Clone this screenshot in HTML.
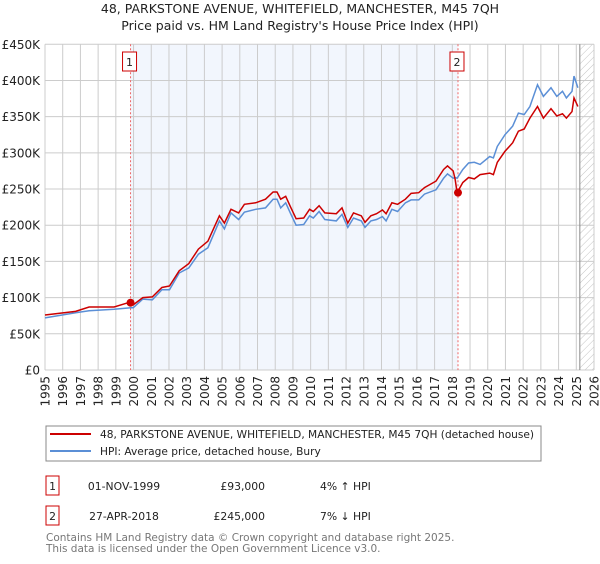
<!DOCTYPE html>
<html><head><meta charset="utf-8"><style>
body{margin:0;background:#fff;font-family:"DejaVu Sans","Liberation Sans",sans-serif;}
svg text{font-family:"DejaVu Sans","Liberation Sans",sans-serif;}
</style></head><body>
<svg id="c" width="600" height="560" xmlns="http://www.w3.org/2000/svg">
<defs><pattern id="hatch" width="5" height="5" patternUnits="userSpaceOnUse" patternTransform="rotate(45)"><line x1="0" y1="0" x2="0" y2="5" stroke="#c4c4c4" stroke-width="1"/></pattern></defs>
<text x="300" y="13" text-anchor="middle" font-size="12.5" fill="#222">48, PARKSTONE AVENUE, WHITEFIELD, MANCHESTER, M45 7QH</text>
<text x="300" y="30" text-anchor="middle" font-size="12.5" fill="#222">Price paid vs. HM Land Registry's House Price Index (HPI)</text>
<g id="plot"></g>
<g>
<rect x="46" y="426" width="495" height="35" fill="#fff" stroke="#888"/>
<line x1="50" y1="434" x2="91" y2="434" stroke="#cc0000" stroke-width="2"/>
<text x="100" y="438" font-size="10.6" fill="#222">48, PARKSTONE AVENUE, WHITEFIELD, MANCHESTER, M45 7QH (detached house)</text>
<line x1="50" y1="451" x2="91" y2="451" stroke="#5b8fd6" stroke-width="2"/>
<text x="100" y="455" font-size="10.6" fill="#222">HPI: Average price, detached house, Bury</text>
</g>
<g font-size="10.8" fill="#222">
<rect x="46" y="476" width="13" height="19" fill="#fff" stroke="#cc0000"/>
<text x="52.5" y="490" text-anchor="middle">1</text>
<text x="124" y="490" text-anchor="middle">01-NOV-1999</text>
<text x="265" y="490" text-anchor="end">£93,000</text>
<text x="320" y="490">4% ↑ HPI</text>
<rect x="46" y="506" width="13" height="19" fill="#fff" stroke="#cc0000"/>
<text x="52.5" y="520" text-anchor="middle">2</text>
<text x="124" y="520" text-anchor="middle">27-APR-2018</text>
<text x="265" y="520" text-anchor="end">£245,000</text>
<text x="320" y="520">7% ↓ HPI</text>
</g>
<text x="46" y="541" font-size="10.5" fill="#777">Contains HM Land Registry data © Crown copyright and database right 2025.</text>
<text x="46" y="552" font-size="10.5" fill="#777">This data is licensed under the Open Government Licence v3.0.</text>
</svg>
<script>
const years=[1995.0,1996.73,1997.49,1998.9,1999.83,1999.98,2000.52,2001.06,2001.6,2002.03,2002.58,2003.12,2003.66,2004.2,2004.85,2005.13,2005.5,2005.93,2006.26,2006.9,2007.45,2007.88,2008.1,2008.31,2008.59,2008.85,2009.18,2009.61,2009.94,2010.15,2010.48,2010.8,2011.45,2011.77,2012.1,2012.42,2012.86,2013.07,2013.4,2013.72,2014.05,2014.26,2014.59,2014.91,2015.35,2015.67,2016.1,2016.43,2017.08,2017.51,2017.73,2018.05,2018.16,2018.27,2018.59,2018.92,2019.24,2019.57,2020.11,2020.32,2020.54,2020.97,2021.41,2021.73,2022.06,2022.38,2022.81,2023.14,2023.57,2023.9,2024.22,2024.44,2024.76,2024.87,2025.09];
const priceK=[76,81,87,87,94,90,100,101,114,116,137,147,167,178,213,203,222,217,229,231,236,246,246,236,240,226,209,210,222,219,227,217,216,224,203,217,213,204,213,216,221,216,231,229,236,244,245,252,261,277,282,275,263,245,259,266,264,270,272,270,287,302,314,330,333,348,364,348,361,351,354,348,357,376,364];
const hpiK=[72,79,82,84,86,86,98,97,111,111,134,141,160,169,206,195,217,208,218,222,224,236,236,224,231,217,200,201,213,210,219,208,206,215,197,210,206,197,206,208,212,206,222,219,231,235,235,243,249,265,271,265,266,265,277,286,287,284,295,293,309,325,337,355,353,364,394,378,390,378,385,376,385,406,390];
const yTicks=[0,50,100,150,200,250,300,350,400,450];
const yTickLabels=["£0","£50K","£100K","£150K","£200K","£250K","£300K","£350K","£400K","£450K"];
const xTicks=[1995,1996,1997,1998,1999,2000,2001,2002,2003,2004,2005,2006,2007,2008,2009,2010,2011,2012,2013,2014,2015,2016,2017,2018,2019,2020,2021,2022,2023,2024,2025,2026];
const saleYears=[1999.83,2018.32];
const saleValuesK=[93,245];
const saleLabels=["1","2"];
const shadeRange=[1999.83,2018.32];
const forecastStart=2025.2;

const L=45,R=594,T=44.3,B=370;
const xs=y=>L+(y-1995)*(R-L)/31;
const ys=v=>B-v*(B-T)/450;
const NS="http://www.w3.org/2000/svg";
const g=document.getElementById('plot');
function mk(t,a){const e=document.createElementNS(NS,t);for(const k in a)e.setAttribute(k,a[k]);g.appendChild(e);return e;}
let e=mk('rect',{x:xs(shadeRange[0]),y:T,width:xs(shadeRange[1])-xs(shadeRange[0]),height:B-T,fill:'#f2f6fd'});


e=mk('rect',{x:xs(forecastStart),y:T,width:R-xs(forecastStart),height:B-T,fill:'url(#hatch)'});


xTicks.forEach(t=>{const l=mk('line',{x1:xs(t),y1:T,x2:xs(t),y2:B,stroke:'#ccc','stroke-width':1});


const tx=mk('text',{x:0,y:0,'font-size':12,fill:'#222','text-anchor':'end',transform:`translate(${xs(t)+4.5},${B+6}) rotate(-90)`});tx.textContent=t;

});
yTicks.forEach((t,i)=>{const l=mk('line',{x1:L,y1:ys(t),x2:R,y2:ys(t),stroke:'#ccc','stroke-width':1});


const tx=mk('text',{x:L-5,y:ys(t)+4.5,'font-size':12,fill:'#222','text-anchor':'end'});tx.textContent=yTickLabels[i];

});
e=mk('line',{x1:xs(forecastStart),y1:T,x2:xs(forecastStart),y2:B,stroke:'#888','stroke-width':1});


saleYears.forEach((s,i)=>{const l=mk('line',{x1:xs(s),y1:T,x2:xs(s),y2:B,stroke:'#e66','stroke-width':1,'stroke-dasharray':'2,2'});


const r=mk('rect',{x:xs(s)-8,y:52,width:14,height:19,fill:'#fff',stroke:'#cc0000'});


const tx=mk('text',{x:xs(s)-1,y:66,'font-size':11,fill:'#222','text-anchor':'middle'});tx.textContent=saleLabels[i];

});
function pts(arr){return years.map((y,i)=>xs(y).toFixed(1)+','+ys(arr[i]).toFixed(1)).join(' ');}
e=mk('polyline',{points:pts(hpiK),fill:'none',stroke:'#5b8fd6','stroke-width':1.5});


e=mk('polyline',{points:pts(priceK),fill:'none',stroke:'#cc0000','stroke-width':1.5});


saleYears.forEach((s,i)=>{const c=mk('circle',{cx:xs(s),cy:ys(saleValuesK[i]),r:4,fill:'#cc0000'});

});
</script>
</body></html>
